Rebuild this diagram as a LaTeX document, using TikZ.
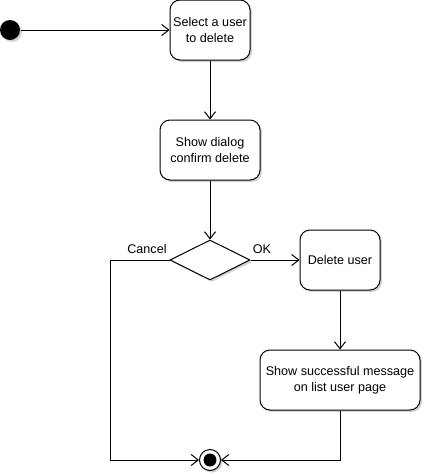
\documentclass[tikz,border=0pt]{standalone}
\usepackage{fontspec}
\setmainfont{Liberation Sans}
\usetikzlibrary{arrows.meta,shapes.geometric,shadows}
\begin{document}
\begin{tikzpicture}[x=1pt,y=-1pt,
  line width=1pt,
  font=\fontsize{12.6}{15.6}\selectfont,
  shad/.style={drop shadow={shadow xshift=2pt,shadow yshift=-2pt,opacity=0.35,fill=gray}},
  act/.style={draw,rounded corners=10pt,fill=white,inner sep=0pt,align=center,shad},
  arr/.style={-{Straight Barb[length=7pt,width=11pt]}},
  dec/.style={draw,diamond,aspect=2,minimum width=80pt,minimum height=40pt,inner sep=0pt,fill=white,shad},
  lbl/.style={inner sep=0pt}
]
\useasboundingbox (0,0) rectangle (425,475);
\node[circle,fill=black,minimum size=20pt,inner sep=0pt,shad] (start) at (10,30) {};
\node[act,minimum width=80pt,minimum height=60pt] (sel) at (210,30) {Select a user\\to delete};
\node[act,minimum width=100pt,minimum height=60pt] (dlg) at (210,150) {Show dialog\\confirm delete};
\node[dec] (d) at (210,260) {};
\node[act,minimum width=80pt,minimum height=60pt] (del) at (340,260) {Delete user};
\node[act,minimum width=160pt,minimum height=60pt] (msg) at (340,380) {Show successful message\\on list user page};
\node[circle,draw,fill=white,minimum size=21pt,inner sep=0pt,shad] (end) at (210,460) {};
\node[circle,fill=black,minimum size=13pt,inner sep=0pt] (endin) at (end.center) {};
\node[lbl] (cancel) at (147,249) {Cancel};
\node[lbl] (ok) at (262,249) {OK};
\coordinate (cl) at (110,260);
\coordinate (cr) at (340,460);
\draw[arr] (start) -- (sel);
\draw[arr] (sel) -- (dlg);
\draw[arr] (dlg) -- (d.north);
\draw[arr] (d.east) -- (del);
\draw[arr] (del) -- (msg);
\draw[arr] (d.west) -- (cl) |- (end.west);
\draw[arr] (msg.south) -- (cr) -- (end.east);
\end{tikzpicture}
\end{document}
